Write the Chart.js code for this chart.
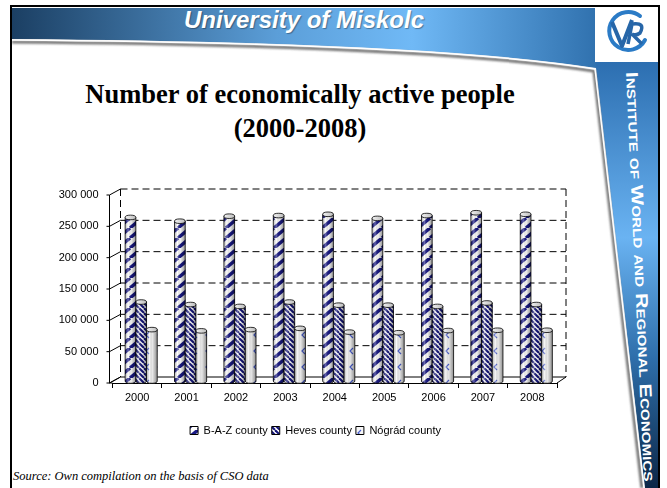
<!DOCTYPE html>
<html>
<head>
<meta charset="utf-8">
<script src="https://cdn.jsdelivr.net/npm/chart.js@4.4.0/dist/chart.umd.min.js"></script>
<style>
  html, body { margin: 0; padding: 0; background: #fff; }
  body { width: 667px; height: 488px; position: relative; overflow: hidden; }
  #deco { position: absolute; left: 0; top: 0; }
  #uni { position: absolute; left: 12px; width: 584px; top: 6px; line-height: 32px; text-align: center;
         color: #fff; font: italic bold 24px "Liberation Sans", Arial, sans-serif;
         text-shadow: 1px 1px 1px rgba(0,0,0,0.35); }
  #title { position: absolute; left: 12px; width: 576px; top: 77px; text-align: center;
           font: bold 26.5px/34px "Liberation Serif", "Times New Roman", serif; color: #000; }
  #source { position: absolute; left: 13px; top: 469px; line-height: 16px;
            font: italic 12.5px "Liberation Serif", "Times New Roman", serif; color: #000; }
  #chart { position: absolute; left: 30px; top: 170px; }
</style>
</head>
<body>

<!-- slide frame: header band, side band, logo -->
<svg id="deco" width="667" height="488" viewBox="0 0 667 488">
  <defs>
    <linearGradient id="hg" x1="0" x2="1" y1="0" y2="0">
      <stop offset="0" stop-color="#1b3f63"/>
      <stop offset="0.45" stop-color="#5b9ed8"/>
      <stop offset="0.68" stop-color="#70b9f6"/>
      <stop offset="1" stop-color="#2f70ad"/>
    </linearGradient>
    <linearGradient id="vg" x1="0" x2="0" y1="0" y2="1">
      <stop offset="0" stop-color="#2a6cae"/>
      <stop offset="0.42" stop-color="#6ab3f2"/>
      <stop offset="0.7" stop-color="#2e6eaa"/>
      <stop offset="1" stop-color="#0b2747"/>
    </linearGradient>
    <filter id="soft"><feGaussianBlur stdDeviation="1.2"/></filter>
  </defs>
  <path d="M12 8 H600 V70 L596 68 Q 430 42 12 39 Z" fill="url(#hg)"/>
  <path d="M596 56 H658 V488 H645 L596 68 Z" fill="url(#vg)"/>
  <path d="M12 42 Q 430 45 594 71 L 642 488" fill="none" stroke="#6f6f6f" stroke-width="3" filter="url(#soft)"/>
  <path d="M12 40 Q 430 43 595 69 L 644 488" fill="none" stroke="#ffffff" stroke-width="1.4"/>
  <rect x="595" y="7" width="63" height="55" fill="#fff"/>
  <!-- logo -->
  <path d="M640 16 A 19 19 0 1 0 645 40" fill="none" stroke="#2b7bc6" stroke-width="4" stroke-linecap="round"/>
  <path d="M612 22 L622 46 L632 20" fill="none" stroke="#2766a8" stroke-width="4" stroke-linejoin="round"/>
  <path d="M628 44 L632 24 Q 646 22 640 33 Q 636 36 632 34 L 642 44" fill="none" stroke="#2766a8" stroke-width="3.5"/>
  <!-- side text -->
  <text transform="translate(626,72) rotate(87.5)" x="0" y="0" textLength="410" lengthAdjust="spacingAndGlyphs"
        fill="#fff" font-family="Liberation Sans Narrow, Liberation Sans, sans-serif" font-weight="bold" font-size="17"
        font-variant="small-caps">Institute of World and Regional Economics</text>
  <!-- frame lines -->
  <rect x="10" y="5" width="650" height="2" fill="#000"/>
  <rect x="10" y="5" width="2" height="483" fill="#000"/>
  <rect x="658" y="5" width="2" height="483" fill="#000"/>
</svg>

<div id="uni">University of Miskolc</div>
<div id="title">Number of economically active people<br>(2000-2008)</div>
<canvas id="chart" width="560" height="276"></canvas>
<div id="source">Source: Own compilation on the basis of CSO data</div>

<script>
// ---------- Data ----------
const years = ['2000', '2001', '2002', '2003', '2004', '2005', '2006', '2007', '2008'];
const seriesNames = ['B-A-Z county', 'Heves county', 'Nógrád county'];
const bazCounty = [261000, 255000, 263000, 264000, 266000, 259500, 264000, 268500, 266000];
const hevesCounty = [126000, 122000, 119000, 126000, 121000, 121000, 119000, 124500, 122000];
const nogradCounty = [82000, 80000, 82000, 84000, 78000, 77000, 80500, 81000, 81000];
const yMax = 300000;
const yStep = 50000;

// ---------- 3D look (wall depth and bar offset) ----------
const DX = 9, DY = -6;   // back wall offset
const BX = 4, BY = -2;   // bars sit halfway in depth
const LEGEND_SHIFT = 8;  // legend sits a bit right of the canvas middle

// striped fills like the old office chart
function makePattern(kind) {
  const c = document.createElement('canvas');
  const g = c.getContext('2d');
  if (kind === 'baz') {
    c.width = 12; c.height = 10;
    g.fillStyle = '#ffffff'; g.fillRect(0, 0, 12, 10);
    g.strokeStyle = '#1a1a86'; g.lineWidth = 3.4;
    [-12, 0, 12].forEach(o => { g.beginPath(); g.moveTo(o, 10); g.lineTo(o + 12, 0); g.stroke(); });
  } else if (kind === 'heves') {
    c.width = 5; c.height = 5;
    g.fillStyle = '#ffffff'; g.fillRect(0, 0, 5, 5);
    g.strokeStyle = '#14147a'; g.lineWidth = 2.1;
    [-5, 0, 5].forEach(o => { g.beginPath(); g.moveTo(o, 0); g.lineTo(o + 5, 5); g.stroke(); });
  } else {
    c.width = 12; c.height = 16;
    g.fillStyle = '#f6f6f6'; g.fillRect(0, 0, 12, 16);
    g.strokeStyle = '#4a5fd0'; g.lineWidth = 1.2;
    g.beginPath(); g.moveTo(7, 4); g.lineTo(4, 7); g.lineTo(7, 10); g.stroke();
  }
  return g.createPattern(c, 'repeat');
}

const fills = [makePattern('baz'), makePattern('heves'), makePattern('nograd')];

function fmt(v) {
  return String(v).replace(/\B(?=(\d{3})+(?!\d))/g, ' ');
}

function line(ctx, x1, y1, x2, y2) {
  ctx.beginPath(); ctx.moveTo(x1, y1); ctx.lineTo(x2, y2); ctx.stroke();
}

// ---------- walls, floor, cylinders ----------
const wallPlugin = {
  id: 'wall',
  afterLayout(chart) {
    chart.legend.left += LEGEND_SHIFT;
    chart.legend.right += LEGEND_SHIFT;
  },
  beforeDatasetsDraw(chart) {
    const { ctx, chartArea: a, scales: { y } } = chart;
    const xL = a.left + DX - 1, xR = a.right + DX;
    const fb = y.getPixelForValue(0);
    const top = y.getPixelForValue(yMax) + DY, bot = fb + DY;
    const fx = a.left - 3;
    ctx.save();
    ctx.strokeStyle = '#000';
    ctx.lineWidth = 1;
    ctx.setLineDash([7, 4]);
    for (let v = yStep; v <= yMax; v += yStep) {
      const p = y.getPixelForValue(v) + DY;
      line(ctx, xL, p, xR, p);
    }
    line(ctx, xL, top, xL, bot);
    line(ctx, xR, top, xR, bot);
    ctx.setLineDash([]);
    line(ctx, xL, bot, xR, bot);
    line(ctx, fx, fb, xL, bot);
    line(ctx, a.right, fb, xR, bot);
    line(ctx, fx, fb, a.left, fb);
    // front value axis
    line(ctx, fx, fb, fx, y.getPixelForValue(yMax));
    for (let v = 0; v <= yMax; v += yStep) {
      const p = y.getPixelForValue(v);
      line(ctx, fx - 3, p, fx, p);
      line(ctx, fx, p, xL, p + DY);
    }
    ctx.restore();
    // bars are drawn shifted into the depth
    ctx.save();
    ctx.translate(BX, BY);
  },
  afterDatasetsDraw(chart) {
    const { ctx } = chart;
    chart.data.datasets.forEach((ds, i) => {
      chart.getDatasetMeta(i).data.forEach(bar => {
        const { x, y, base, width } = bar.getProps(['x', 'y', 'base', 'width'], true);
        const l = x - width / 2, r = x + width / 2, ry = 2.3;
        // body with rounded bottom
        ctx.beginPath();
        ctx.moveTo(l, y);
        ctx.lineTo(l, base);
        ctx.ellipse(x, base, width / 2, ry, 0, Math.PI, 0, true);
        ctx.lineTo(r, y);
        ctx.closePath();
        ctx.fillStyle = ds.backgroundColor;
        ctx.fill();
        const g = ctx.createLinearGradient(l, 0, r, 0);
        g.addColorStop(0, 'rgba(0,0,0,0.22)');
        g.addColorStop(0.28, 'rgba(255,255,255,0.35)');
        g.addColorStop(0.55, 'rgba(0,0,0,0.06)');
        g.addColorStop(1, 'rgba(0,0,0,0.42)');
        ctx.fillStyle = g;
        ctx.fill();
        ctx.strokeStyle = '#000';
        ctx.lineWidth = 0.8;
        ctx.stroke();
        // top cap
        ctx.beginPath();
        ctx.ellipse(x, y, width / 2, ry, 0, 0, Math.PI * 2);
        const tg = ctx.createLinearGradient(l, 0, r, 0);
        tg.addColorStop(0, '#f2f2f2');
        tg.addColorStop(1, '#bdbdbd');
        ctx.fillStyle = tg;
        ctx.fill();
        ctx.stroke();
      });
    });
    ctx.restore();
  }
};

const font = { family: '"Liberation Sans", Arial, sans-serif', size: 11 };

new Chart(document.getElementById('chart').getContext('2d'), {
  type: 'bar',
  data: {
    labels: years,
    datasets: [
      { label: seriesNames[0], data: bazCounty, backgroundColor: fills[0], borderWidth: 0 },
      { label: seriesNames[1], data: hevesCounty, backgroundColor: fills[1], borderWidth: 0 },
      { label: seriesNames[2], data: nogradCounty, backgroundColor: fills[2], borderWidth: 0 }
    ]
  },
  options: {
    responsive: false,
    animation: false,
    layout: { padding: { left: 28, right: 33, top: 25, bottom: 0 } },
    datasets: { bar: { categoryPercentage: 0.65, barPercentage: 1 } },
    scales: {
      x: {
        grid: { offset: true, drawOnChartArea: false, tickLength: 5, color: '#000' },
        border: { color: '#000' },
        ticks: { color: '#000', font: font, padding: 3, maxRotation: 0, autoSkip: false },
        afterFit(s) { s.height = 38; }
      },
      y: {
        min: 0,
        max: yMax,
        grid: { display: false },
        border: { display: false },
        ticks: { stepSize: yStep, color: '#000', font: font, padding: 6, callback: v => fmt(v) },
        afterFit(s) { s.width = 54.5; }
      }
    },
    plugins: {
      legend: {
        position: 'bottom',
        labels: {
          boxWidth: 8, boxHeight: 8, padding: 4, color: '#000', font: font,
          generateLabels(chart) {
            const items = Chart.defaults.plugins.legend.labels.generateLabels(chart);
            items.forEach(it => { it.lineWidth = 1; it.strokeStyle = '#000'; });
            return items;
          }
        }
      },
      tooltip: { enabled: false }
    }
  },
  plugins: [wallPlugin]
});
</script>
</body>
</html>
